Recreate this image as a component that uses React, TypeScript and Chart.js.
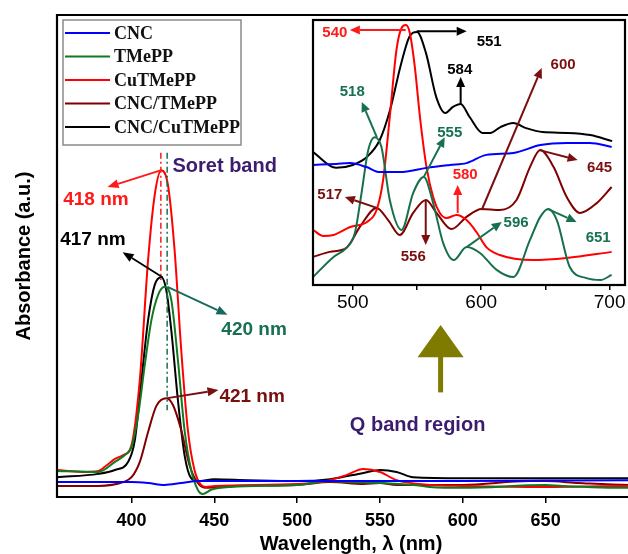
import { useEffect, useRef } from "react";
import { Chart, registerables } from "chart.js";

Chart.register(...registerables);

// ---------- series meta ----------
const seriesNames = ["CNC", "TMePP", "CuTMePP", "CNC/TMePP", "CNC/CuTMePP"];
const mainColors = ["#0000ff", "#0f7a22", "#ff0000", "#800000", "#000000"];
const insetColors = ["#0000ff", "#17704a", "#ff0000", "#800000", "#000000"];

// ---------- ticks ----------
const mainTicks = [400, 450, 500, 550, 600, 650];
const insetTicks = [500, 550, 600, 650, 700];

// ---------- main spectra: [wavelength nm, absorbance a.u.] ----------
const cncMain = [[355, 3.1], [380, 3.1], [400, 3.1], [410, 2.9], [420, 2.5], [430, 2.9], [440, 3.3], [470, 3.3], [500, 3.3], [550, 3.3], [600, 3.3], [650, 3.4], [700, 3.5], [710, 3.5]];
const tmeppMain = [[355, 5.4], [380, 5.2], [390, 7.3], [396, 8.7], [400, 10.4], [404, 17.0], [408, 27.4], [412, 36.7], [416, 41.9], [420, 43.6], [424, 40.9], [428, 28.4], [432, 13.9], [436, 5.6], [440, 1.5], [443, 0.6], [448, 1.5], [460, 2.1], [500, 2.5], [520, 3.3], [530, 3.1], [550, 2.9], [570, 2.5], [580, 2.1], [600, 1.9], [650, 2.5], [660, 2.3], [700, 1.9], [710, 1.9]];
const cutmeppMain = [[355, 5.6], [370, 5.2], [380, 5.4], [385, 6.6], [390, 7.9], [395, 8.7], [400, 10.8], [405, 24.3], [410, 49.2], [414, 62.7], [418, 67.8], [422, 64.7], [426, 51.2], [430, 30.5], [434, 13.9], [438, 5.6], [442, 2.5], [445, 2.1], [450, 2.3], [500, 2.7], [520, 3.5], [530, 4.6], [540, 5.8], [550, 5.2], [560, 3.5], [580, 2.5], [600, 2.3], [650, 2.1], [700, 2.3], [710, 2.3]];
const cncTmeppMain = [[355, 2.3], [380, 2.3], [395, 3.1], [400, 4.1], [405, 7.3], [410, 13.5], [415, 18.9], [421, 20.5], [425, 19.1], [430, 13.9], [435, 6.6], [440, 2.9], [445, 1.9], [460, 2.3], [500, 2.5], [520, 3.1], [540, 2.7], [550, 2.9], [560, 2.5], [600, 2.5], [640, 3.3], [650, 3.3], [670, 2.9], [700, 2.5], [710, 2.5]];
const cncCutmeppMain = [[355, 4.1], [380, 4.8], [390, 5.6], [398, 7.3], [402, 11.8], [406, 24.3], [410, 36.7], [414, 44.0], [418, 45.6], [421, 42.9], [424, 34.6], [428, 20.1], [432, 8.7], [436, 3.9], [440, 3.3], [450, 3.7], [470, 3.5], [500, 3.3], [520, 3.7], [540, 5.0], [550, 5.6], [560, 5.2], [570, 4.1], [600, 3.9], [650, 3.9], [700, 3.9], [710, 3.9]];

// ---------- inset (Q band) spectra, offset for clarity ----------
const cncInset = [[469, 45.3], [487, 45.7], [498, 46.0], [510.6, 44.5], [521, 42.6], [536.6, 42.6], [557.4, 44.2], [575.6, 45.3], [588.6, 46.0], [604, 49.1], [625, 49.8], [646, 52.8], [666.6, 53.6], [684.7, 53.6], [701.6, 52.1]];
const tmeppInset = [[469, 3.0], [485, 10.6], [495, 14.0], [501.6, 19.6], [506.8, 34.7], [512, 50.9], [517, 55.8], [522.3, 52.1], [528.8, 32.1], [538, 20.8], [547, 34.7], [555.3, 40.8], [562.6, 30.9], [570.4, 15.8], [578.6, 9.4], [588.6, 14.3], [599, 12.1], [612, 5.7], [625, 3.0], [638, 17.0], [646, 25.7], [652.3, 28.7], [658.9, 24.5], [669, 6.8], [682, 2.6], [693, 1.9], [701.6, 3.8]];
const cutmeppInset = [[469, 20.8], [477, 18.5], [485, 18.9], [498, 21.9], [511, 23.8], [518.5, 28.3], [523.6, 39.6], [528.8, 63.4], [534, 88.7], [538, 97.0], [541.4, 98.1], [544.4, 95.1], [548.3, 82.3], [552.3, 63.4], [557.4, 44.5], [562.6, 33.2], [567.8, 27.2], [573, 25.3], [580.8, 26.4], [588.6, 24.5], [596.3, 20.0], [604, 14.3], [614.5, 11.3], [640, 9.4], [666.6, 10.2], [701.6, 12.5]];
const cncTmeppInset = [[469, 10.6], [482, 12.5], [495, 14.0], [505.5, 21.9], [518.5, 29.1], [527.5, 24.5], [536.6, 18.9], [547, 27.2], [557, 32.1], [565.2, 27.2], [576.9, 21.1], [588.6, 25.7], [600.3, 28.7], [614.5, 28.3], [627.5, 32.1], [638, 44.5], [646, 50.9], [656.4, 44.5], [666.6, 33.2], [677, 27.2], [690, 30.9], [701.6, 37.0]];
const cncCutmeppInset = [[469, 50.2], [487, 44.2], [500, 45.3], [511, 48.3], [521, 54.7], [529, 66.0], [537, 82.3], [544, 93.6], [550, 95.5], [557, 87.5], [565, 70.9], [572, 64.9], [578, 67.2], [584, 68.3], [591, 63.4], [601, 57.4], [607, 57.4], [615, 59.6], [625, 61.1], [635, 59.2], [648, 57.7], [667, 57.4], [685, 56.6], [702, 54.3]];

const mainSeries = [cncMain, tmeppMain, cutmeppMain, cncTmeppMain, cncCutmeppMain];
const insetSeries = [cncInset, tmeppInset, cutmeppInset, cncTmeppInset, cncCutmeppInset];

// ---------- annotations (data coordinates) ----------
const PURPLE = "#3b1c6e";
const mainLabels = [
  { text: "Soret band", color: PURPLE, x: 424.7, y: 68.5, align: "left", size: 20 },
  { text: "418 nm", color: "#ff1a1a", x: 378.5, y: 61.6, align: "center", size: 19 },
  { text: "417 nm", color: "#000000", x: 376.7, y: 53.3, align: "center", size: 19 },
  { text: "420 nm", color: "#17704f", x: 474, y: 34.6, align: "center", size: 19 },
  { text: "421 nm", color: "#7a0f0f", x: 472.8, y: 20.7, align: "center", size: 19 },
  { text: "Q band region", color: PURPLE, x: 572.7, y: 14.9, align: "center", size: 20 },
];
const mainArrows = [
  { color: "#ff1a1a", from: [418, 67.8], to: [385.5, 64.3] },
  { color: "#000000", from: [418.7, 45.6], to: [394.6, 50.8] },
  { color: "#17695c", from: [421.7, 43.6], to: [457.9, 37.8] },
  { color: "#7a0f0f", from: [421.7, 20.5], to: [452.5, 22.2] },
];
const mainDashDot = [
  { color: "#ff1a1a", x: 417.7, y1: 71.4, y2: 45.0 },
  { color: "#17704f", x: 421.5, y1: 71.4, y2: 18.0 },
];
const qArrow = { x: 586.6, tip: 35.7, base: 29.0, tail: 21.6, half: 13.9, color: "#7f7a00" };

const insetLabels = [
  { text: "540", color: "#ff1a1a", x: 486, y: 95.1 },
  { text: "551", color: "#000000", x: 606.2, y: 91.7 },
  { text: "584", color: "#000000", x: 583.3, y: 81.1 },
  { text: "600", color: "#7a0f0f", x: 663.8, y: 83.0 },
  { text: "518", color: "#17704f", x: 499.6, y: 72.8 },
  { text: "555", color: "#17704f", x: 575.5, y: 57.4 },
  { text: "580", color: "#ff1a1a", x: 587.5, y: 41.5 },
  { text: "645", color: "#7a0f0f", x: 692.2, y: 44.2 },
  { text: "517", color: "#7a0f0f", x: 482.1, y: 34.0 },
  { text: "556", color: "#7a0f0f", x: 547.1, y: 10.6 },
  { text: "596", color: "#17704f", x: 627.2, y: 23.4 },
  { text: "651", color: "#17704f", x: 691.1, y: 17.7 },
];
const insetArrows = [
  { color: "#ff1a1a", from: [541.2, 96.2], to: [497.7, 96.2] },
  { color: "#000000", from: [549.8, 95.8], to: [588.7, 95.8] },
  { color: "#000000", from: [584, 68.3], to: [584, 78.5] },
  { color: "#7a0f0f", from: [600.4, 28.3], to: [647.1, 81.9] },
  { color: "#17704f", from: [518.7, 55.8], to: [507, 69.1] },
  { color: "#17704f", from: [555.3, 40.8], to: [571.6, 55.8] },
  { color: "#ff1a1a", from: [581.7, 27.2], to: [581.7, 37.7] },
  { color: "#7a0f0f", from: [645.5, 50.9], to: [675.1, 47.2] },
  { color: "#7a0f0f", from: [518.7, 29.1], to: [493.8, 33.2] },
  { color: "#7a0f0f", from: [556.8, 32.1], to: [556.8, 15.1] },
  { color: "#17704f", from: [588.7, 14.3], to: [616, 23.8] },
  { color: "#17704f", from: [651.8, 28.7], to: [674.3, 23.8] },
];

const SANS = "'Liberation Sans', Arial, sans-serif";
const SERIF = "'Liberation Serif', 'Times New Roman', serif";

function drawArrow(ctx: CanvasRenderingContext2D, x1: number, y1: number, x2: number, y2: number, color: string, lw = 2, head = 10, hw = 4.5) {
  const ang = Math.atan2(y2 - y1, x2 - x1);
  const bx = x2 - head * Math.cos(ang);
  const by = y2 - head * Math.sin(ang);
  ctx.save();
  ctx.strokeStyle = color;
  ctx.fillStyle = color;
  ctx.lineWidth = lw;
  ctx.setLineDash([]);
  ctx.beginPath();
  ctx.moveTo(x1, y1);
  ctx.lineTo(bx, by);
  ctx.stroke();
  ctx.beginPath();
  ctx.moveTo(x2, y2);
  ctx.lineTo(bx + hw * Math.sin(ang), by - hw * Math.cos(ang));
  ctx.lineTo(bx - hw * Math.sin(ang), by + hw * Math.cos(ang));
  ctx.closePath();
  ctx.fill();
  ctx.restore();
}

const mainDecor = {
  id: "mainDecor",
  afterDatasetsDraw(chart: any) {
    const { ctx, scales } = chart;
    const x = scales.x, y = scales.y;
    ctx.save();
    // dash-dot guide lines
    mainDashDot.forEach((d) => {
      ctx.strokeStyle = d.color;
      ctx.lineWidth = 1.5;
      ctx.setLineDash([6, 3, 2, 3]);
      ctx.beginPath();
      ctx.moveTo(x.getPixelForValue(d.x), y.getPixelForValue(d.y1));
      ctx.lineTo(x.getPixelForValue(d.x), y.getPixelForValue(d.y2));
      ctx.stroke();
    });
    ctx.setLineDash([]);
    mainArrows.forEach((a) => {
      drawArrow(ctx, x.getPixelForValue(a.from[0]), y.getPixelForValue(a.from[1]), x.getPixelForValue(a.to[0]), y.getPixelForValue(a.to[1]), a.color, 1.8, 11, 4.5);
    });
    // Q-band olive arrow
    const qx = x.getPixelForValue(qArrow.x);
    const hw = x.getPixelForValue(qArrow.x + qArrow.half) - qx;
    ctx.fillStyle = qArrow.color;
    ctx.beginPath();
    ctx.moveTo(qx, y.getPixelForValue(qArrow.tip));
    ctx.lineTo(qx + hw, y.getPixelForValue(qArrow.base));
    ctx.lineTo(qx - hw, y.getPixelForValue(qArrow.base));
    ctx.closePath();
    ctx.fill();
    ctx.fillRect(qx - 2.5, y.getPixelForValue(qArrow.base) - 0.5, 5, y.getPixelForValue(qArrow.tail) - y.getPixelForValue(qArrow.base));
    // labels
    ctx.textBaseline = "middle";
    mainLabels.forEach((l) => {
      ctx.fillStyle = l.color;
      ctx.font = `bold ${l.size}px ${SANS}`;
      ctx.textAlign = l.align as CanvasTextAlign;
      ctx.fillText(l.text, x.getPixelForValue(l.x), y.getPixelForValue(l.y));
    });
    ctx.restore();
  },
  afterDraw(chart: any) {
    const { ctx, chartArea: a } = chart;
    ctx.save();
    // frame (left, top, bottom)
    ctx.strokeStyle = "#000";
    ctx.lineWidth = 2.2;
    ctx.beginPath();
    ctx.moveTo(a.right + 5, a.top);
    ctx.lineTo(a.left, a.top);
    ctx.lineTo(a.left, a.bottom);
    ctx.lineTo(a.right + 5, a.bottom);
    ctx.stroke();
    // legend
    const lx = a.left + 6, ly = a.top + 5, lw = 178, lh = 125;
    ctx.fillStyle = "#fff";
    ctx.fillRect(lx, ly, lw, lh);
    ctx.strokeStyle = "#8a8a8a";
    ctx.lineWidth = 1.5;
    ctx.strokeRect(lx, ly, lw, lh);
    chart.data.datasets.forEach((ds: any, i: number) => {
      const yy = ly + 13 + i * 23.5;
      ctx.strokeStyle = ds.borderColor;
      ctx.lineWidth = 2;
      ctx.beginPath();
      ctx.moveTo(lx + 2, yy);
      ctx.lineTo(lx + 47, yy);
      ctx.stroke();
      ctx.fillStyle = "#111";
      ctx.font = `bold 18px ${SERIF}`;
      ctx.textAlign = "left";
      ctx.textBaseline = "middle";
      ctx.fillText(ds.label, lx + 51, yy + 1);
    });
    ctx.restore();
  },
};

const insetDecor = {
  id: "insetDecor",
  beforeDraw(chart: any) {
    const { ctx, chartArea: a } = chart;
    ctx.save();
    ctx.fillStyle = "#fff";
    ctx.fillRect(a.left, a.top, a.right - a.left, a.bottom - a.top);
    ctx.restore();
  },
  afterDatasetsDraw(chart: any) {
    const { ctx, scales } = chart;
    const x = scales.x, y = scales.y;
    ctx.save();
    insetArrows.forEach((a) => {
      drawArrow(ctx, x.getPixelForValue(a.from[0]), y.getPixelForValue(a.from[1]), x.getPixelForValue(a.to[0]), y.getPixelForValue(a.to[1]), a.color, 2, 10, 4.5);
    });
    ctx.textBaseline = "middle";
    ctx.textAlign = "center";
    ctx.font = `bold 15px ${SANS}`;
    insetLabels.forEach((l) => {
      ctx.fillStyle = l.color;
      ctx.fillText(l.text, x.getPixelForValue(l.x), y.getPixelForValue(l.y));
    });
    ctx.restore();
  },
  afterDraw(chart: any) {
    const { ctx, chartArea: a } = chart;
    ctx.save();
    ctx.strokeStyle = "#000";
    ctx.lineWidth = 2.2;
    ctx.strokeRect(a.left, a.top, a.right - a.left, a.bottom - a.top);
    ctx.restore();
  },
};

function makeDatasets(series: number[][][], colors: string[]) {
  return series.map((s, i) => ({
    label: seriesNames[i],
    data: s.map(([x, y]) => ({ x, y })),
    borderColor: colors[i],
    backgroundColor: colors[i],
    borderWidth: 2,
    pointRadius: 0,
    cubicInterpolationMode: "monotone" as const,
    fill: false,
  }));
}

export default function App() {
  const mainRef = useRef<HTMLCanvasElement>(null);
  const insetRef = useRef<HTMLCanvasElement>(null);

  useEffect(() => {
    const main = new Chart(mainRef.current as HTMLCanvasElement, {
      type: "line",
      data: { datasets: makeDatasets(mainSeries, mainColors) as any },
      options: {
        responsive: false,
        animation: false,
        layout: { padding: { left: 0, top: 15, right: 15, bottom: 0 } },
        plugins: { legend: { display: false }, tooltip: { enabled: false } },
        scales: {
          x: {
            type: "linear",
            min: 355,
            max: 710,
            afterBuildTicks: (s: any) => { s.ticks = mainTicks.map((v) => ({ value: v })); },
            afterFit: (s: any) => { s.height = 57; },
            grid: { display: true, drawOnChartArea: false, drawTicks: true, tickLength: 6, color: "#000", lineWidth: 1.5 },
            border: { display: false },
            ticks: { color: "#000", padding: 7, font: { family: SANS, size: 18, weight: "bold" }, maxRotation: 0, autoSkip: false },
            title: { display: true, text: "Wavelength, λ (nm)", color: "#000", padding: { top: 0, bottom: 0 }, font: { family: SANS, size: 20, weight: "bold", lineHeight: 1 } },
          },
          y: {
            type: "linear",
            min: 0,
            max: 100,
            afterFit: (s: any) => { s.width = 57; },
            grid: { display: false },
            border: { display: false },
            ticks: { display: false },
            title: { display: true, text: "Absorbance (a.u.)", color: "#000", padding: { top: 14, bottom: 0 }, font: { family: SANS, size: 20, weight: "bold", lineHeight: 1 } },
          },
        },
      },
      plugins: [mainDecor],
    });

    const inset = new Chart(insetRef.current as HTMLCanvasElement, {
      type: "line",
      data: { datasets: makeDatasets(insetSeries, insetColors) as any },
      options: {
        responsive: false,
        animation: false,
        layout: { padding: { left: 13, top: 2, right: 3, bottom: 0 } },
        plugins: { legend: { display: false }, tooltip: { enabled: false } },
        scales: {
          x: {
            type: "linear",
            min: 469,
            max: 712,
            afterBuildTicks: (s: any) => { s.ticks = insetTicks.map((v) => ({ value: v })); },
            afterFit: (s: any) => { s.height = 33; },
            grid: { display: true, drawOnChartArea: false, drawTicks: true, tickLength: 5, color: "#000", lineWidth: 1.5 },
            border: { display: false },
            ticks: {
              color: "#000",
              padding: 1,
              font: { family: SANS, size: 19 },
              maxRotation: 0,
              autoSkip: false,
              callback: (v: any) => (Number(v) % 100 === 0 ? String(v) : ""),
            },
          },
          y: { type: "linear", min: 0, max: 100, display: false },
        },
      },
      plugins: [insetDecor],
    });

    return () => {
      main.destroy();
      inset.destroy();
    };
  }, []);

  return (
    <div style={{ position: "fixed", left: 0, top: 0, width: 628, height: 554, overflow: "hidden", background: "#fff" }}>
      <canvas ref={mainRef} width={660} height={554} style={{ position: "absolute", left: 0, top: 0 }} />
      <canvas ref={insetRef} width={328} height={300} style={{ position: "absolute", left: 300, top: 18 }} />
    </div>
  );
}
